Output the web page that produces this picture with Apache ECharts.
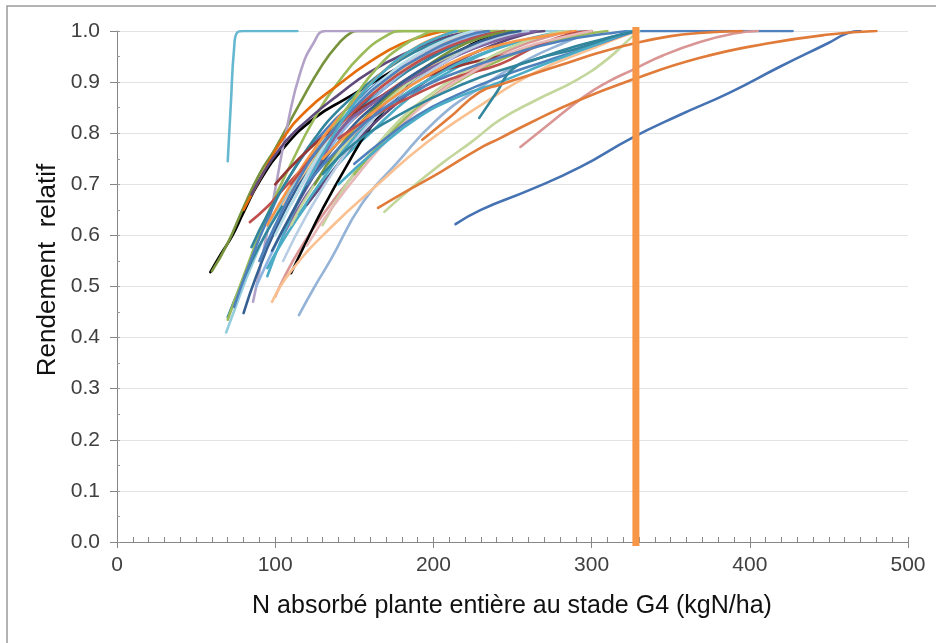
<!DOCTYPE html>
<html>
<head>
<meta charset="utf-8">
<script src="https://cdn.jsdelivr.net/npm/echarts@6/dist/echarts.min.js"></script>
<style>
  html, body { margin: 0; padding: 0; background: #ffffff; }
  #chart { width: 936px; height: 643px; }
</style>
</head>
<body>
<div id="chart"></div>
<script>
// Axis ranges and tick labels
const xRange = [0, 500];
const xStep = 100;
const yRange = [0, 1];
const yStep = 0.1;

// Critical N uptake marker (kgN/ha)
const nThreshold = 328;

// Response curves: [N absorbé (kgN/ha), rendement relatif]
const n01 = [[70,0.745],[72,0.86],[74,0.965],[76,0.997],[80,1.0],[114,1.0]];
const n02 = [[59,0.528],[66,0.565],[73,0.60],[80,0.645],[90,0.705],[105,0.77],[125,0.83],[145,0.868],[165,0.905],[185,0.94],[210,0.975],[230,0.995],[240,1.0]];
const n03 = [[60,0.53],[70,0.585],[80,0.655],[90,0.72],[100,0.77],[115,0.855],[130,0.935],[140,0.975],[148,0.997],[152,1.0],[200,1.0]];
const n04 = [[86,0.47],[92,0.56],[100,0.69],[108,0.82],[116,0.92],[124,0.975],[132,1.0],[180,1.0]];
const n05 = [[69,0.41],[75,0.46],[85,0.54],[100,0.64],[120,0.74],[140,0.82],[160,0.88],[185,0.94],[210,0.98],[235,1.0],[300,1.0]];
const n06 = [[70,0.44],[78,0.50],[90,0.58],[105,0.66],[125,0.75],[145,0.82],[170,0.89],[200,0.95],[230,0.99],[245,1.0]];
const n07 = [[70,0.435],[80,0.52],[95,0.64],[110,0.74],[125,0.83],[140,0.90],[155,0.955],[170,0.99],[180,1.0],[240,1.0]];
const n08 = [[80,0.448],[88,0.52],[100,0.61],[115,0.70],[130,0.77],[150,0.84],[175,0.91],[200,0.955],[225,0.99],[240,1.0]];
const n09 = [[74,0.46],[82,0.53],[95,0.63],[110,0.72],[130,0.80],[150,0.86],[175,0.92],[200,0.96],[230,0.99],[250,1.0]];
const n10 = [[80,0.65],[92,0.72],[105,0.79],[120,0.845],[140,0.895],[160,0.94],[180,0.975],[200,0.995],[210,1.0]];
const n11 = [[84,0.626],[95,0.656],[105,0.69],[120,0.74],[140,0.80],[160,0.855],[180,0.90],[200,0.935],[225,0.97],[250,0.995],[260,1.0]];
const n12 = [[85,0.68],[103,0.77],[122,0.83],[140,0.875],[160,0.92],[185,0.96],[210,0.99],[230,1.0]];
const n13 = [[95,0.536],[105,0.59],[120,0.66],[140,0.74],[160,0.80],[185,0.87],[210,0.92],[240,0.965],[270,0.99],[290,1.0]];
const n14 = [[85,0.577],[95,0.64],[110,0.72],[125,0.79],[140,0.845],[160,0.90],[180,0.945],[200,0.975],[220,0.995],[230,1.0]];
const n15 = [[88,0.50],[100,0.58],[115,0.67],[130,0.75],[150,0.83],[170,0.89],[190,0.94],[215,0.98],[235,1.0]];
const n16 = [[100,0.48],[106,0.52],[115,0.57],[130,0.64],[150,0.72],[170,0.79],[195,0.86],[220,0.915],[250,0.965],[280,0.995],[290,1.0]];
const n17 = [[110,0.526],[120,0.59],[130,0.652],[145,0.735],[160,0.81],[180,0.88],[200,0.93],[225,0.975],[245,1.0]];
const n18 = [[115,0.444],[125,0.50],[135,0.552],[155,0.663],[177,0.742],[202,0.826],[230,0.89],[260,0.945],[285,0.98],[300,1.0]];
const n19 = [[98,0.47],[110,0.53],[135,0.615],[165,0.70],[195,0.78],[230,0.855],[265,0.92],[300,0.965],[320,0.99],[330,1.0]];
const n20 = [[105,0.60],[120,0.68],[140,0.76],[160,0.83],[180,0.88],[200,0.925],[225,0.965],[250,0.99],[265,1.0]];
const n21 = [[120,0.66],[135,0.72],[150,0.78],[170,0.84],[190,0.89],[215,0.94],[240,0.975],[260,0.995],[270,1.0]];
const n22 = [[100,0.70],[115,0.75],[135,0.805],[160,0.86],[190,0.905],[220,0.935],[248,0.955],[275,0.98],[300,1.0]];
const n23 = [[110,0.62],[125,0.70],[145,0.78],[165,0.85],[185,0.90],[210,0.95],[235,0.985],[250,1.0]];
const n24 = [[115,0.64],[130,0.71],[150,0.79],[175,0.86],[200,0.91],[230,0.955],[260,0.985],[285,1.0]];
const n25 = [[95,0.62],[110,0.70],[125,0.77],[140,0.83],[155,0.88],[170,0.925],[185,0.96],[200,0.985],[215,1.0]];
const n26 = [[105,0.66],[120,0.73],[135,0.79],[150,0.845],[170,0.90],[190,0.945],[210,0.98],[225,1.0]];
const n27 = [[120,0.72],[135,0.80],[150,0.87],[165,0.93],[180,0.97],[195,0.995],[200,1.0],[260,1.0]];
const n28 = [[110,0.66],[125,0.74],[140,0.81],[160,0.88],[180,0.93],[200,0.97],[220,0.995],[230,1.0]];
const n29 = [[100,0.60],[115,0.69],[130,0.77],[150,0.85],[170,0.91],[190,0.955],[210,0.985],[225,1.0]];
const n30 = [[110,0.70],[125,0.76],[145,0.83],[165,0.885],[185,0.93],[210,0.97],[230,0.99],[245,1.0]];
const n31 = [[125,0.70],[140,0.77],[160,0.84],[180,0.895],[200,0.94],[220,0.975],[240,0.995],[250,1.0]];
const n32 = [[90,0.55],[100,0.62],[115,0.71],[130,0.78],[150,0.85],[170,0.905],[195,0.955],[220,0.99],[235,1.0]];
const n33 = [[110,0.64],[125,0.72],[141,0.806],[160,0.855],[177,0.89],[200,0.93],[225,0.965],[250,0.99],[265,1.0]];
const n34 = [[105,0.55],[120,0.64],[140,0.74],[160,0.82],[180,0.88],[205,0.935],[230,0.975],[250,0.995],[260,1.0]];
const n35 = [[95,0.52],[105,0.60],[118,0.69],[132,0.77],[148,0.85],[165,0.91],[185,0.96],[205,0.99],[215,1.0]];
const n36 = [[98,0.57],[110,0.64],[125,0.72],[145,0.80],[165,0.86],[190,0.92],[215,0.96],[240,0.99],[255,1.0]];
const n37 = [[130,0.62],[145,0.70],[160,0.76],[180,0.83],[200,0.88],[225,0.93],[250,0.97],[275,0.995],[285,1.0]];
const n38 = [[150,0.72],[170,0.79],[190,0.85],[215,0.90],[240,0.94],[265,0.97],[290,0.99],[310,1.0]];
const n39 = [[130,0.75],[150,0.81],[170,0.86],[195,0.91],[220,0.95],[245,0.975],[270,0.99],[290,1.0]];
const n40 = [[140,0.79],[160,0.83],[185,0.87],[210,0.905],[242,0.935],[265,0.97],[285,0.993],[300,1.0]];
const n41 = [[120,0.58],[135,0.65],[155,0.73],[175,0.80],[200,0.87],[225,0.92],[255,0.965],[285,0.99],[300,1.0]];
const n42 = [[120,0.70],[140,0.77],[165,0.84],[190,0.885],[220,0.925],[250,0.955],[280,0.98],[310,0.995],[328,1.0],[427,1.0]];
const n43 = [[130,0.72],[150,0.78],[175,0.83],[200,0.87],[230,0.91],[260,0.94],[290,0.97],[315,0.99],[328,1.0]];
const n44 = [[150,0.74],[170,0.79],[190,0.835],[215,0.875],[242,0.91],[270,0.94],[300,0.97],[326,0.998],[330,1.0]];
const n45 = [[140,0.70],[165,0.77],[190,0.83],[215,0.87],[242,0.90],[270,0.935],[300,0.97],[325,1.0]];
const n46 = [[229,0.83],[240,0.88],[250,0.925],[265,0.945],[290,0.965],[315,0.99],[328,1.0]];
const n47 = [[169,0.646],[185,0.69],[205,0.74],[225,0.785],[242,0.826],[265,0.865],[291,0.905],[310,0.945],[326,0.99],[330,1.0]];
const n48 = [[255,0.773],[270,0.81],[295,0.871],[310,0.90],[326,0.924],[345,0.952],[368,0.978],[390,0.995],[405,1.0]];
const n49 = [[193,0.787],[210,0.83],[229,0.88],[242,0.895],[265,0.918],[284,0.937],[305,0.958],[326,0.975],[350,0.99],[368,0.996],[395,1.0]];
const n50 = [[214,0.622],[230,0.65],[261,0.689],[293,0.734],[325,0.79],[356,0.836],[387,0.879],[419,0.93],[450,0.977],[462,0.996],[470,1.0]];
const n51 = [[165,0.654],[185,0.69],[205,0.725],[229,0.77],[242,0.79],[261,0.82],[290,0.862],[326,0.905],[368,0.947],[410,0.975],[450,0.993],[480,1.0]];

const curveData = [n01,n02,n03,n04,n05,n06,n07,n08,n09,n10,n11,n12,n13,n14,n15,n16,n17,
  n18,n19,n20,n21,n22,n23,n24,n25,n26,n27,n28,n29,n30,n31,n32,n33,n34,n35,n36,n37,n38,
  n39,n40,n41,n42,n43,n44,n45,n46,n47,n48,n49,n50,n51];

const curveColors = [
  '#66B8D0','#000000','#77933C','#B3A2C7','#93CDDD','#31859C','#9BBB59','#376092','#4F81BD',
  '#E46C0A','#C0504D','#604A7B','#4BACC6','#31859C','#8EB4E3','#D99694','#000000',
  '#95B3D7','#FAC090','#8064A2','#604A7B','#953735','#C3D69B','#4BACC6','#F79646','#FAC090',
  '#9BBB59','#CCC1DA','#B7DEE8','#C0504D','#77933C','#4F81BD','#8064A2','#B9CDE5','#4BACC6',
  '#376092','#C3D69B','#9BBB59','#F79646','#C0504D','#E6B9B8','#4F81BD','#31859C','#4F81BD',
  '#4BACC6','#31859C','#C3D69B','#D99694','#E07B39','#4572B2','#E07B39'
];

const fontFamily = '"Liberation Sans", Arial, sans-serif';

const curveSeries = curveData.map((pts, i) => ({
  type: 'line',
  data: pts,
  smooth: 0.5,
  showSymbol: false,
  symbol: 'none',
  silent: true,
  lineStyle: { color: curveColors[i], width: 2.6, cap: 'round', join: 'round' },
  z: 2
}));

const thresholdSeries = {
  type: 'line',
  data: [[nThreshold, -0.008], [nThreshold, 1.008]],
  showSymbol: false,
  symbol: 'none',
  clip: false,
  silent: true,
  lineStyle: { color: '#F79646', width: 7, cap: 'butt' },
  z: 5
};

const chart = echarts.init(document.getElementById('chart'), null, { renderer: 'canvas' });

chart.setOption({
  backgroundColor: '#ffffff',
  animation: false,
  grid: { left: 117, right: 28, top: 31, bottom: 101, containLabel: false },
  xAxis: [
    {
      type: 'value', position: 'bottom',
      min: xRange[0], max: xRange[1], interval: xStep,
      axisLine: { show: true, lineStyle: { color: '#868686', width: 1 } },
      axisTick: { show: true, inside: false, length: 6, lineStyle: { color: '#868686' } },
      axisLabel: { show: true, margin: 13, fontSize: 21, color: '#404040', fontFamily: fontFamily },
      splitLine: { show: false }
    },
    {
      type: 'value', position: 'bottom',
      min: xRange[0], max: xRange[1], interval: 10,
      axisLine: { show: false },
      axisTick: { show: true, inside: true, length: 5, lineStyle: { color: '#868686' } },
      axisLabel: { show: false },
      splitLine: { show: false }
    }
  ],
  yAxis: [
    {
      type: 'value', position: 'left',
      min: yRange[0], max: yRange[1], interval: yStep,
      axisLine: { show: true, lineStyle: { color: '#868686', width: 1 } },
      axisTick: { show: true, inside: false, length: 7, lineStyle: { color: '#868686' } },
      axisLabel: {
        show: true, margin: 17, fontSize: 21, color: '#404040', fontFamily: fontFamily,
        formatter: v => v.toFixed(1)
      },
      splitLine: { show: true, lineStyle: { color: '#E3E3E3', width: 1 } }
    },
    {
      type: 'value', position: 'left',
      min: yRange[0], max: yRange[1], interval: 0.05,
      axisLine: { show: false },
      axisTick: { show: true, inside: true, length: 3, lineStyle: { color: '#9A9A9A' } },
      axisLabel: { show: false },
      splitLine: { show: false }
    }
  ],
  graphic: [
    {
      type: 'rect', silent: true, z: 0,
      shape: { x: 7, y: 6, width: 960, height: 660 },
      style: { fill: null, stroke: '#9A9A9A', lineWidth: 1.5 }
    },
    {
      type: 'text', silent: true,
      x: 48, y: 270, rotation: Math.PI / 2,
      style: {
        text: 'Rendement  relatif', fill: '#111111',
        font: '26px ' + fontFamily, align: 'center', verticalAlign: 'middle'
      }
    },
    {
      type: 'text', silent: true,
      x: 512, y: 606,
      style: {
        text: 'N absorbé plante entière au stade G4 (kgN/ha)', fill: '#111111',
        font: '25px ' + fontFamily, align: 'center', verticalAlign: 'middle'
      }
    }
  ],
  series: curveSeries.concat([thresholdSeries])
});
</script>
</body>
</html>
